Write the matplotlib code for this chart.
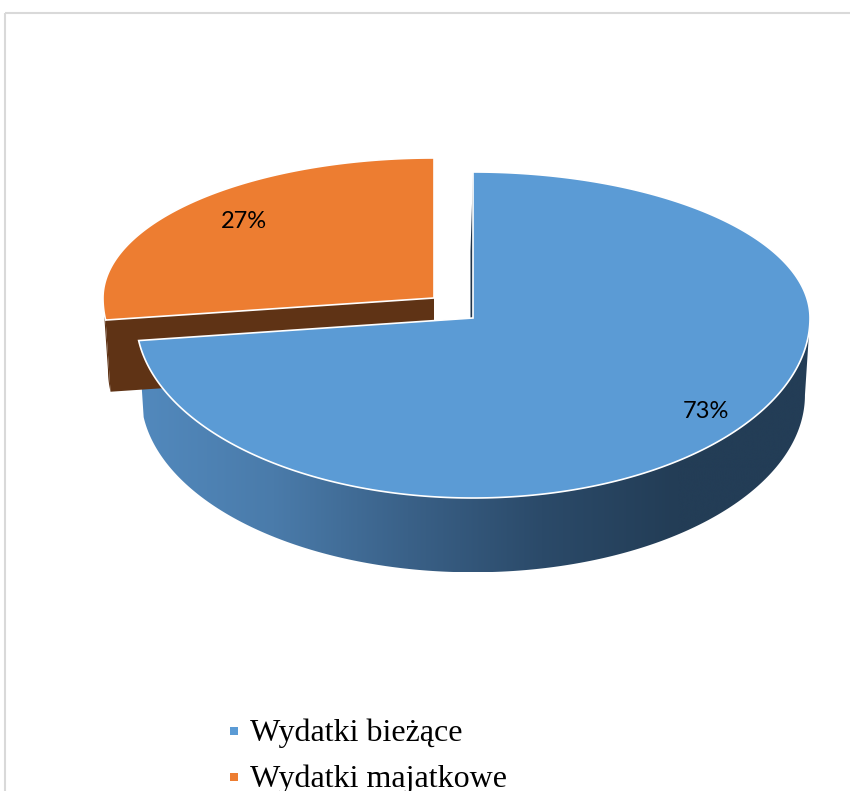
import numpy as np
import matplotlib.pyplot as plt
from matplotlib.patches import Polygon, Rectangle
from matplotlib.colors import LinearSegmentedColormap

# data
categories = ['Wydatki bieżące', 'Wydatki majatkowe']
shares = [73, 27]
pct_labels = ['73%', '27%']
top_colors = ['#5B9BD5', '#ED7D31']
side_color_orange = '#5F3315'
side_cmap = LinearSegmentedColormap.from_list(
    'blueside', ['#5289BD', '#4A7BAA', '#3A6188', '#2B4A69', '#233D56', '#233D56'])

# pie geometry in pixel coordinates (y grows downwards)
# (cx, cy, rx, ry_back, ry_front, thickness)
geom = {
    'Wydatki bieżące': (473, 318, 337, 146, 180, 77),
    'Wydatki majatkowe': (434, 298, 331, 140, 176, 72),
}
shrink = 0.985  # perspective of the bottom rim
label_pos = {'73%': (706, 412), '27%': (244, 222)}


def rim(g, deg, bottom=False):
    cx, cy, rx, ryb, ryf, th = g
    t = np.radians(np.atleast_1d(deg))
    s = np.sin(t)
    ry = np.where(s > 0, ryb, ryf)
    x = rx * np.cos(t)
    y = -ry * s
    if bottom:
        return cx + x * shrink, cy + y * shrink + th
    return cx + x, cy + y


def top_face(g, a0, a1):
    ang = np.linspace(a0, a1, 300)
    x, y = rim(g, ang)
    pts = np.column_stack([np.r_[g[0], x], np.r_[g[1], y]])
    return pts


def outer_side(g, a0, a1):
    ang = np.linspace(a0, a1, 300)
    xt, yt = rim(g, ang)
    xb, yb = rim(g, ang, bottom=True)
    return np.column_stack([np.r_[xt, xb[::-1]], np.r_[yt, yb[::-1]]])


def cut_face(g, deg, dx=0.0):
    xt, yt = rim(g, deg)
    xb, yb = rim(g, deg, bottom=True)
    cx, cy, th = g[0], g[1], g[5]
    return np.array([[cx, cy], [xt[0], yt[0]], [xb[0] + dx, yb[0]], [cx + dx, cy + th]])


fig = plt.figure(figsize=(8.5, 7.91), dpi=100)
ax = fig.add_axes([0, 0, 1, 1])
ax.set_xlim(0, 850)
ax.set_ylim(791, 0)
ax.axis('off')

# chart border
ax.add_patch(Rectangle((5.5, 12.5), 900, 900, fill=False, ec='#D9D9D9', lw=1.5, clip_on=False))

# slice angles: start at 12 o'clock, blue goes clockwise
frac_orange = shares[1] / sum(shares)
a_split = 90 + 360 * frac_orange

# orange slice (behind)
go = geom[categories[1]]
ax.add_patch(Polygon(cut_face(go, a_split), closed=True, fc=side_color_orange, ec='none'))
ax.add_patch(Polygon(outer_side(go, 180, a_split), closed=True, fc=side_color_orange, ec='none'))
ax.add_patch(Polygon(top_face(go, 90, a_split), closed=True, fc=top_colors[1], ec='white', lw=1.2))

# blue slice
gb = geom[categories[0]]
ax.add_patch(Polygon(cut_face(gb, 90, dx=-2.5), closed=True, fc='#1F344B', ec='none'))
side = Polygon(outer_side(gb, a_split, 360), closed=True, fc='none', ec='none')
ax.add_patch(side)
xs = side.get_xy()
grad = np.linspace(0, 1, 256).reshape(1, -1)
im = ax.imshow(grad, cmap=side_cmap, aspect='auto',
               extent=[xs[:, 0].min(), xs[:, 0].max(), xs[:, 1].max(), xs[:, 1].min()],
               interpolation='bicubic')
im.set_clip_path(side)
ax.add_patch(Polygon(top_face(gb, a_split, 450), closed=True, fc=top_colors[0], ec='white', lw=1.2))

# percentage labels
for lab in pct_labels:
    x, y = label_pos[lab]
    ax.text(x, y, lab, ha='center', va='center', fontsize=17, family='Lato', color='black')

# legend
for i, (cat, col) in enumerate(zip(categories, top_colors)):
    y = 731 + i * 46
    ax.add_patch(Rectangle((230, y - 4), 8, 8, fc=col, ec='none'))
    ax.text(250, y + 2, cat, ha='left', va='center', fontsize=23,
            family='Liberation Serif', color='black')

fig.savefig('out.png', dpi=100)
